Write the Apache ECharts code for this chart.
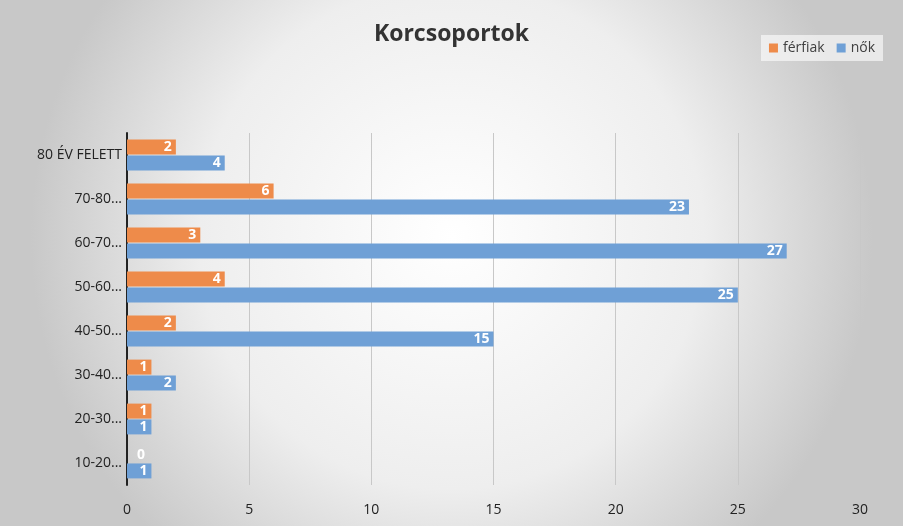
<!DOCTYPE html>
<html><head><meta charset="utf-8">
<script src="https://cdn.jsdelivr.net/npm/echarts@6/dist/echarts.min.js"></script>
<style>html,body{margin:0;padding:0;}#c{width:903px;height:526px;}</style>
</head><body><div id="c"></div>
<script>
var categories = ['10-20...', '20-30...', '30-40...', '40-50...', '50-60...', '60-70...', '70-80...', '80 ÉV FELETT'];
var ferfiak = [0, 1, 1, 2, 4, 3, 6, 2];
var nok = [1, 1, 2, 15, 25, 27, 23, 4];
var xTicks = [0, 5, 10, 15, 20, 25, 30];

var chart = echarts.init(document.getElementById('c'));
function lbl() {
  return {show: true, color: '#fff', fontWeight: 'bold', fontSize: 14, fontFamily: 'Open Sans',
    position: 'insideRight', distance: 4};
}
function withZero(arr) {
  return arr.map(function (v) {
    return v === 0 ? {value: v, label: {position: 'right', distance: 10}} : v;
  });
}
chart.setOption({
  backgroundColor: {type: 'radial', x: 0.5, y: 0.45, r: 0.8, colorStops: [{offset: 0, color: '#ffffff'}, {offset: 0.6, color: '#eeeeee'}, {offset: 1, color: '#c8c8c8'}]},
  title: {text: 'Korcsoportok', left: 'center', top: 18, textStyle: {fontFamily: 'Open Sans', fontSize: 23, fontWeight: 'bold', color: '#333'}},
  legend: {data: ['férfiak', 'nők'], right: 20, top: 35, itemWidth: 9, itemHeight: 9, itemGap: 12, padding: [6, 8], backgroundColor: 'rgba(255,255,255,0.6)', textStyle: {fontFamily: 'Open Sans', fontSize: 14, color: '#404040'}, icon: 'rect'},
  grid: {left: 127, right: 43, top: 133, bottom: 41, containLabel: false},
  xAxis: {type: 'value', min: 0, max: 30, interval: 5,
    axisLine: {show: false}, axisTick: {show: false},
    splitLine: {lineStyle: {color: '#c8c8c8'}},
    axisLabel: {fontFamily: 'Open Sans', fontSize: 14, color: '#222', margin: 18,
      formatter: function (v) { return xTicks.indexOf(v) >= 0 ? String(v) : ''; }}},
  yAxis: {type: 'category', data: categories,
    axisLine: {lineStyle: {color: '#222', width: 2}}, axisTick: {show: false},
    axisLabel: {fontFamily: 'Open Sans', fontSize: 14, color: '#222', margin: 5}},
  series: [
    {name: 'férfiak', type: 'bar', data: withZero(ferfiak), itemStyle: {color: '#ee8b4a'}, barGap: '6%', barCategoryGap: '30%', label: lbl()},
    {name: 'nők', type: 'bar', data: withZero(nok), itemStyle: {color: '#6fa0d6'}, label: lbl()}
  ]
});
</script></body></html>
